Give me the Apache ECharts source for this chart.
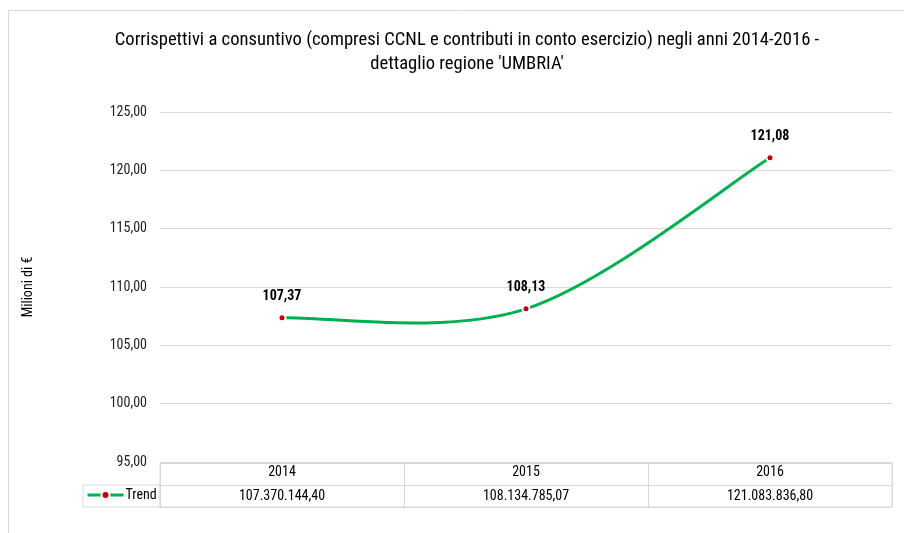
<!DOCTYPE html>
<html><head><meta charset="utf-8">
<script src="https://cdn.jsdelivr.net/npm/echarts@6/dist/echarts.min.js"></script>
<style>html,body{margin:0;padding:0;background:#fff}#c{width:904px;height:533px}</style>
</head><body><div id="c"></div>
<script>
const titleText = "Corrispettivi a consuntivo (compresi CCNL e contributi in conto esercizio) negli anni 2014-2016 -\ndettaglio regione 'UMBRIA'";
const categories = ['2014', '2015', '2016'];
const seriesName = 'Trend';
const rawValues = [107370144.40, 108134785.07, 121083836.80];
const yTicks = { min: 95, max: 125, interval: 5 };
const yName = 'Milioni di €';

const FONT = "'Roboto Condensed','DejaVu Sans Condensed',sans-serif";
const millions = rawValues.map(v => Math.round(v / 10000) / 100);
function fmtIt(v, dec) {
  const parts = v.toFixed(dec).split('.');
  parts[0] = parts[0].replace(/\B(?=(\d{3})+(?!\d))/g, '.');
  return parts.join(',');
}
const tableValues = rawValues.map(v => fmtIt(v, 2));

// Excel-like smoothed curve (Catmull-Rom style bezier) through the library's coordinates
function smoothPath(api) {
  const p = millions.map((v, i) => api.coord([i, v]));
  const n = p.length;
  const at = i => p[Math.max(0, Math.min(n - 1, i))];
  let d = 'M' + p[0][0] + ' ' + p[0][1];
  for (let i = 0; i < n - 1; i++) {
    const p0 = at(i - 1), p1 = at(i), p2 = at(i + 1), p3 = at(i + 2);
    const c1 = [p1[0] + (p2[0] - p0[0]) / 6, p1[1] + (p2[1] - p0[1]) / 6];
    const c2 = [p2[0] - (p3[0] - p1[0]) / 6, p2[1] - (p3[1] - p1[1]) / 6];
    d += ' C' + c1[0] + ' ' + c1[1] + ' ' + c2[0] + ' ' + c2[1] + ' ' + p2[0] + ' ' + p2[1];
  }
  return d;
}

const chart = echarts.init(document.getElementById('c'));
chart.setOption({
  animation: false,
  backgroundColor: '#fff',
  textStyle: { fontFamily: FONT },
  title: {
    text: titleText, left: 462, top: 23, padding: 5, textAlign: 'center',
    textStyle: { fontFamily: FONT, fontSize: 18.6, fontWeight: 'normal', color: '#000', lineHeight: 24 }
  },
  graphic: [{
    type: 'rect', shape: { x: 8.5, y: 10.5, width: 930, height: 560 }, silent: true, z: -10,
    style: { fill: 'none', stroke: '#d9d9d9', lineWidth: 1 }
  }],
  legend: {
    left: 84, top: 486, padding: [2, 2, 2, 2], itemGap: 0, itemWidth: 36, itemHeight: 10,
    data: [{ name: seriesName, lineStyle: { color: '#00B050', width: 3, opacity: 1 } }],
    textStyle: { fontFamily: FONT, fontSize: 14, color: '#000', padding: [0, 0, 0, -3] }
  },
  grid: [
    { left: 160, right: 12, top: 112, bottom: 71 },
    { left: 160, right: 12, top: 463, height: 44, show: true, borderColor: '#d9d9d9', borderWidth: 1 },
    { left: 83, width: 77, top: 485, height: 22, show: true, borderColor: '#d9d9d9', borderWidth: 1 }
  ],
  xAxis: [
    { gridIndex: 0, type: 'category', data: categories, boundaryGap: true,
      axisLine: { show: false }, axisTick: { show: false }, axisLabel: { show: false } },
    { gridIndex: 1, type: 'category', data: categories, position: 'top', boundaryGap: true,
      axisLine: { show: false }, axisTick: { show: false },
      splitLine: { show: true, lineStyle: { color: '#d9d9d9' } },
      axisLabel: { inside: true, margin: 2, fontFamily: FONT, fontSize: 14, color: '#000' } },
    { gridIndex: 1, type: 'category', data: tableValues, position: 'bottom', boundaryGap: true,
      axisLine: { show: false }, axisTick: { show: false },
      axisLabel: { inside: true, margin: 4, fontFamily: FONT, fontSize: 14, color: '#000' } },
    { gridIndex: 2, type: 'category', data: [''], show: false }
  ],
  yAxis: [
    { gridIndex: 0, type: 'value', min: yTicks.min, max: yTicks.max, interval: yTicks.interval,
      name: yName, nameLocation: 'middle', nameGap: 125, nameRotate: 90,
      nameTextStyle: { fontFamily: FONT, fontSize: 14, color: '#000' },
      axisLine: { show: false }, axisTick: { show: false },
      axisLabel: { margin: 13, fontFamily: FONT, fontSize: 14, color: '#222', formatter: v => fmtIt(v, 2) },
      splitLine: { lineStyle: { color: '#d9d9d9' } } },
    { gridIndex: 1, type: 'value', min: 0, max: 2, interval: 1, show: true,
      axisLine: { show: false }, axisTick: { show: false }, axisLabel: { show: false },
      splitLine: { show: true, lineStyle: { color: '#d9d9d9' } } },
    { gridIndex: 2, type: 'value', show: false }
  ],
  series: [
    {
      name: 'curve', type: 'custom', xAxisIndex: 0, yAxisIndex: 0, z: 1, silent: true,
      data: millions.map((v, i) => [i, v]),
      renderItem: (params, api) => {
        if (params.dataIndexInside !== 0) return null;
        return { type: 'path', shape: { pathData: smoothPath(api) },
          style: { stroke: '#00B050', lineWidth: 3, fill: null } };
      }
    },
    {
      name: seriesName, type: 'line', xAxisIndex: 0, yAxisIndex: 0, z: 3,
      data: millions, symbol: 'circle', symbolSize: 7,
      lineStyle: { color: '#00B050', width: 3, opacity: 0 },
      itemStyle: { color: '#C00000', borderColor: '#fff', borderWidth: 2 },
      label: { show: true, position: 'top', distance: 10, formatter: p => fmtIt(p.value, 2),
        fontFamily: FONT, fontSize: 14, fontWeight: 'bold', color: '#000' }
    }
  ]
});
</script></body></html>
